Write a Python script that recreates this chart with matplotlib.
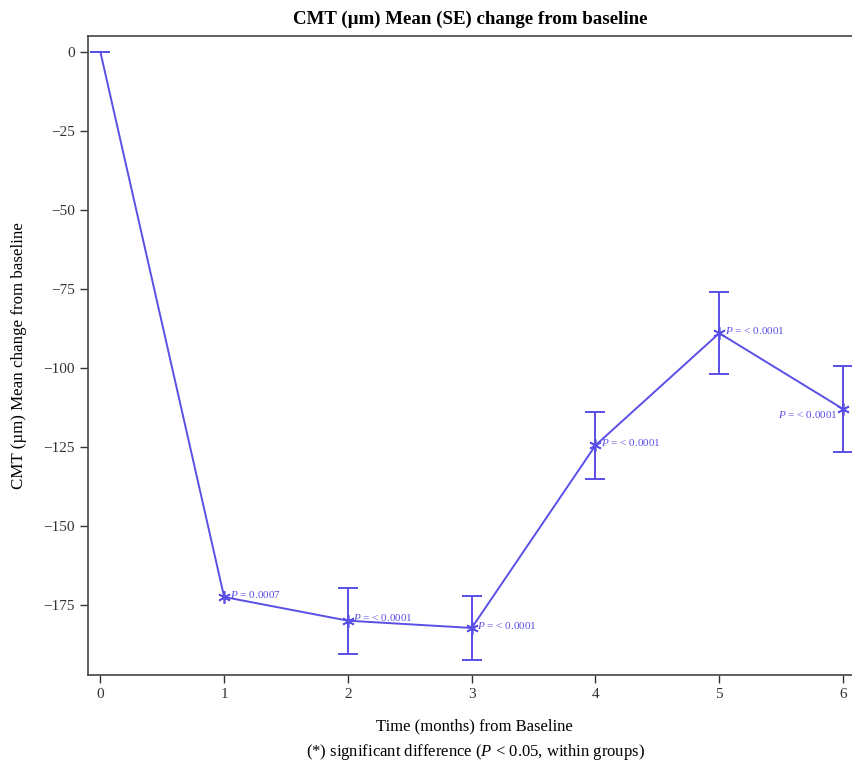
import matplotlib
matplotlib.use("Agg")
import matplotlib.pyplot as plt

months = [0, 1, 2, 3, 4, 5, 6]
mean_change = [0.0, -172.5, -180.0, -182.3, -124.5, -89.0, -113.0]
se = [0.0, 0.0, 10.4, 10.0, 10.5, 13.0, 13.5]
p_labels = ["", "P = 0.0007", "P = < 0.0001", "P = < 0.0001", "P = < 0.0001", "P = < 0.0001", "P = < 0.0001"]
y_ticks = [0, -25, -50, -75, -100, -125, -150, -175]

color = "#5a4fe6"
plt.rcParams['font.family'] = ['Liberation Serif', 'DejaVu Serif']
plt.rcParams['mathtext.fontset'] = 'custom'
plt.rcParams['mathtext.rm'] = 'Liberation Serif'
plt.rcParams['mathtext.it'] = 'Liberation Serif:italic'

fig = plt.figure(figsize=(8.52, 7.72), dpi=100)
# axes extends slightly past the right edge (reference is cropped there)
ax = fig.add_axes([0.1033, 0.1256, 0.9061, 0.8278])

# connecting line
ax.plot(months, mean_change, color=color, lw=1.4)

# error bars (baseline cap plus points with SE)
ex = [m for m, s in zip(months, se) if s > 0 or m == 0]
ey = [v for m, v, s in zip(months, mean_change, se) if s > 0 or m == 0]
es = [s for m, s in zip(months, se) if s > 0 or m == 0]
ax.errorbar(ex, ey, yerr=es, fmt="none", ecolor=color, capsize=7, capthick=1.4, elinewidth=1.4)

# significance markers
sx = [m for m, lab in zip(months, p_labels) if lab]
sy = [v for v, lab in zip(mean_change, p_labels) if lab]
ax.plot(sx, sy, ls="none", marker=(6, 2, 0), markersize=9, mew=1.2, color=color)

for x, y, lab in zip(months, mean_change, p_labels):
    if not lab:
        continue
    txt = r"$P$" + lab[1:]
    if x == 6:
        ax.annotate(txt, (x, y), xytext=(-4, -4), textcoords="offset points",
                    color=color, fontsize=8, va="center", ha="right")
    else:
        ax.annotate(txt, (x, y), xytext=(4, 2), textcoords="offset points",
                    color=color, fontsize=8, va="center", ha="left")

ax.set_xlim(-0.1, 6.137)
ax.set_ylim(-197.2, 5.06)
ax.set_xticks(months)
ax.set_yticks(y_ticks)
ax.tick_params(direction="out", length=6, width=1, labelsize=11, colors="#333333")
for s in ax.spines.values():
    s.set_color("#444444")
    s.set_linewidth(1.2)

fig.text(0.552, 0.975, "CMT (µm) Mean (SE) change from baseline", fontsize=13.6, fontweight="bold",
         ha="center", va="center")
ax.set_ylabel("CMT (µm) Mean change from baseline", fontsize=12.2, labelpad=12)
ax.set_xlabel("Time (months) from Baseline", fontsize=12, labelpad=12)
fig.text(0.558, 0.026, r"(*) significant difference ($P$ < 0.05, within groups)", fontsize=12,
         ha="center", va="center")

fig.savefig("out.png", dpi=100)
